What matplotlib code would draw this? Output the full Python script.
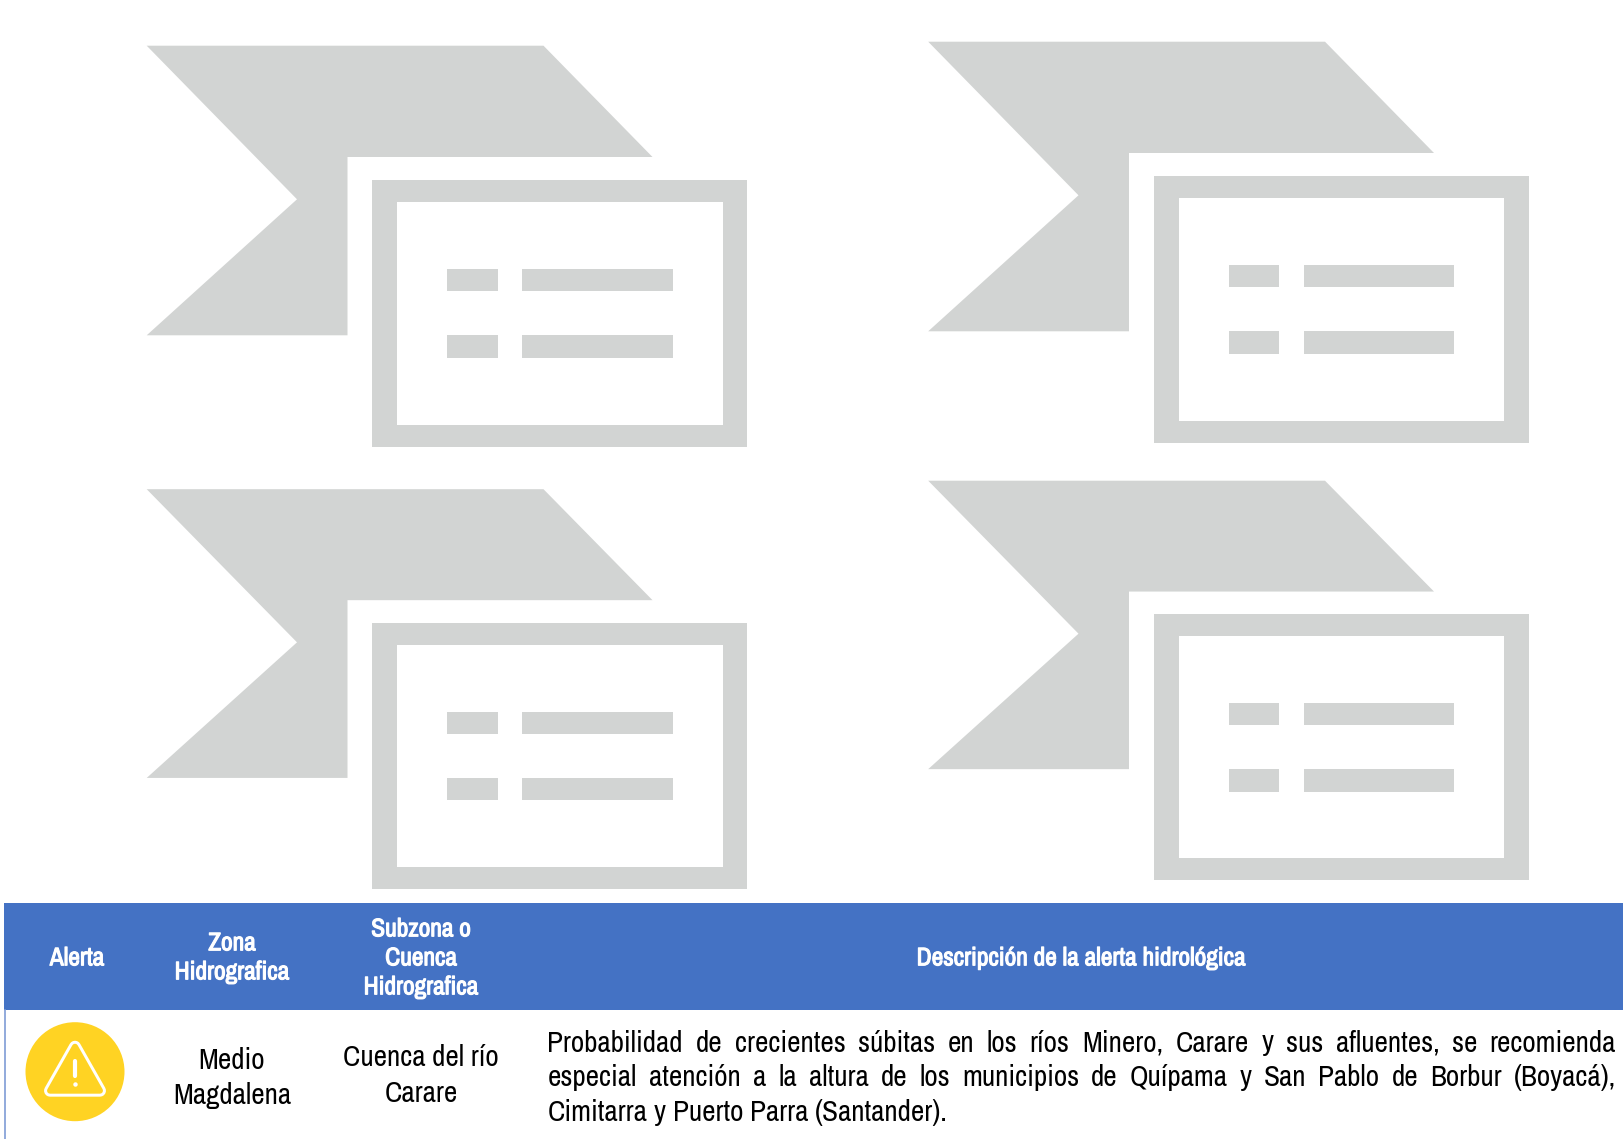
import matplotlib
matplotlib.use('Agg')
import matplotlib.pyplot as plt
from matplotlib.patches import Polygon, Rectangle, Circle
import matplotlib.patheffects as pe

GRAY = '#d2d4d3'
BLUE = '#4472c4'
YELLOW = '#ffd323'
FONT = ['Archivo Narrow', 'Liberation Sans']

# icon offsets in px
icon_dx = [0, 781.5, 0, 781.5]
icon_dy = [0, -4, 443.5, 435]
icon_sy = [1, 1, 0.997, 0.996]

# table text
header_labels = ['Alerta', 'Zona', 'Hidrografica', 'Subzona o', 'Cuenca', 'Hidrografica',
                 'Descripción de la alerta hidrológica']
header_x = [77, 232, 232, 421, 421, 421, 1081]
header_y = [965.3, 950.3, 979.3, 936.3, 965.3, 994.3, 965.3]
cell_labels = ['Medio', 'Magdalena', 'Cuenca del río', 'Carare']
cell_x = [232, 232, 421, 421]
cell_y = [1069.3, 1104.3, 1066.3, 1102.5]
desc_lines = ['Probabilidad de crecientes súbitas en los ríos Minero, Carare y sus afluentes, se recomienda',
              'especial atención a la altura de los municipios de Quípama y San Pablo de Borbur (Boyacá),',
              'Cimitarra y Puerto Parra (Santander).']
desc_y = [1051.5, 1086, 1121]

fig = plt.figure(figsize=(16.24, 11.39), dpi=100)
ax = fig.add_axes([0, 0, 1, 1])
ax.set_xlim(0, 1624)
ax.set_ylim(1139, 0)
ax.axis('off')
renderer = fig.canvas.get_renderer()


def draw_icon(dx, dy, sy):
    def Y(y):
        return 45.7 + dy + (y - 45.7) * sy
    flag = [(146.7, 45.7), (543.5, 45.7), (652.5, 157), (347.5, 157), (347.5, 335.3),
            (146.7, 335.3), (297, 199.3)]
    ax.add_patch(Polygon([(x + dx, Y(y)) for x, y in flag], fc=GRAY, ec='none'))
    ax.add_patch(Rectangle((372.4 + dx, Y(179.7)), 374.8, Y(447) - Y(179.7), fc=GRAY, ec='none'))
    ax.add_patch(Rectangle((397.2 + dx, Y(202)), 325.6, Y(424.7) - Y(202), fc='white', ec='none'))
    for by in [268.7, 335.3]:
        ax.add_patch(Rectangle((447.2 + dx, Y(by)), 50.6, Y(by + 22.5) - Y(by), fc=GRAY, ec='none'))
        ax.add_patch(Rectangle((522.3 + dx, Y(by)), 150.6, Y(by + 22.5) - Y(by), fc=GRAY, ec='none'))


for dx, dy, sy in zip(icon_dx, icon_dy, icon_sy):
    draw_icon(dx, dy, sy)

# table header, the narrow face has no bold here so thicken it with a stroke
ax.add_patch(Rectangle((4, 902.6), 1620, 107.2, fc=BLUE, ec='none'))
ax.plot([4.8, 4.8], [1010, 1139], color='#7f9cd6', lw=1.2)
for s, x, y in zip(header_labels, header_x, header_y):
    ax.text(x, y, s, color='white', fontsize=18.3, family=FONT, ha='center', va='baseline',
            path_effects=[pe.withStroke(linewidth=0.8, foreground='white')])

for s, x, y in zip(cell_labels, cell_x, cell_y):
    ax.text(x, y, s, color='black', fontsize=21, family=FONT, ha='center', va='baseline')

# alert icon
ax.add_patch(Circle((75, 1071.7), 49.5, fc=YELLOW, ec='none'))
tri = [(75, 1046.7), (50, 1090.7), (100, 1090.7)]
ax.add_patch(Polygon(tri, closed=True, fc='white', ec='white', lw=8.6, joinstyle='round'))
ax.add_patch(Polygon(tri, closed=True, fc=YELLOW, ec=YELLOW, lw=4.3, joinstyle='round'))
ax.plot([75, 75], [1061, 1076], color='white', lw=3, solid_capstyle='round')
ax.plot([75], [1083.5], 'o', color='white', ms=3.2, mew=0)

# justified description, word by word
left, right = 547.5, 1616
for k, (line, y) in enumerate(zip(desc_lines, desc_y)):
    words = line.split(' ')
    items = [ax.text(0, y, w, color='black', fontsize=21, family=FONT, ha='left', va='baseline') for w in words]
    widths = [t.get_window_extent(renderer).width for t in items]
    if k < 2:
        gap = (right - left - sum(widths)) / (len(words) - 1)
    else:
        gap = 6.8
    x = left
    for t, w in zip(items, widths):
        t.set_x(x)
        x += w + gap

fig.savefig('out.png', dpi=100)
